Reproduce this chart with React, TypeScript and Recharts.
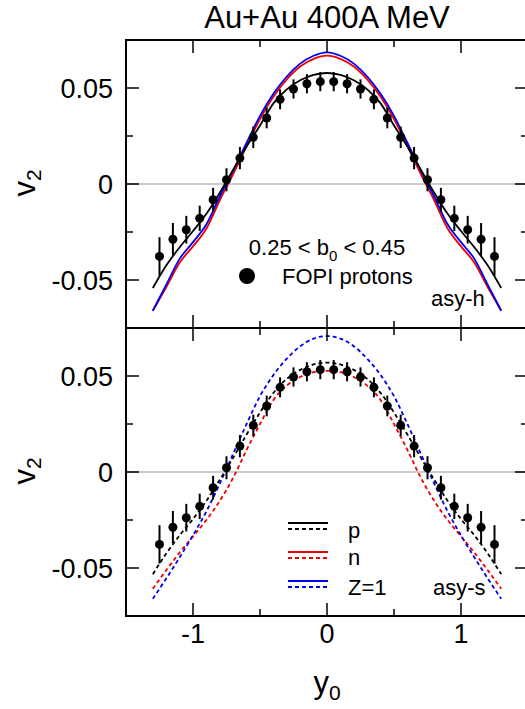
import { ComposedChart, ErrorBar, Line, ReferenceArea, ReferenceLine, Scatter, XAxis, YAxis } from "recharts";

// rapidity grid for the transport-model curves
const curveY0 = [
  -1.3, -1.2, -1.1, -1.0, -0.9, -0.8, -0.7, -0.6, -0.5, -0.4, -0.3, -0.2, -0.1, 0,
  0.1, 0.2, 0.3, 0.4, 0.5, 0.6, 0.7, 0.8, 0.9, 1.0, 1.1, 1.2, 1.3,
];

// asy-h (solid)
const pStiff = [
  -0.0542, -0.0425, -0.033, -0.0245, -0.0155, -0.0045, 0.0075, 0.0195, 0.0305, 0.042, 0.0493, 0.054, 0.0568, 0.0578,
  0.0568, 0.054, 0.0493, 0.042, 0.0305, 0.0195, 0.0075, -0.0045, -0.0155, -0.0245, -0.033, -0.0425, -0.0542,
];
const nStiff = [
  -0.066, -0.0538, -0.041, -0.0325, -0.0232, -0.0085, 0.0052, 0.0198, 0.0338, 0.0455, 0.0545, 0.0612, 0.0652, 0.0669,
  0.0652, 0.0612, 0.0545, 0.0455, 0.0338, 0.0198, 0.0052, -0.0085, -0.0232, -0.0325, -0.041, -0.0538, -0.066,
];
const zStiff = [
  -0.066, -0.0525, -0.039, -0.0303, -0.021, -0.0065, 0.007, 0.0215, 0.0355, 0.047, 0.056, 0.0627, 0.0668, 0.0686,
  0.0668, 0.0627, 0.056, 0.047, 0.0355, 0.0215, 0.007, -0.0065, -0.021, -0.0303, -0.039, -0.0525, -0.066,
];

// asy-s (dashed)
const pSoft = [
  -0.0532, -0.0425, -0.033, -0.0245, -0.015, -0.004, 0.0075, 0.0195, 0.031, 0.0412, 0.0485, 0.0532, 0.056, 0.057,
  0.056, 0.0532, 0.0485, 0.0412, 0.031, 0.0195, 0.0075, -0.004, -0.015, -0.0245, -0.033, -0.0425, -0.0532,
];
const nSoft = [
  -0.0608, -0.0512, -0.042, -0.0335, -0.025, -0.015, -0.003, 0.0115, 0.025, 0.0375, 0.045, 0.0495, 0.052, 0.0527,
  0.052, 0.0495, 0.045, 0.0375, 0.025, 0.0115, -0.003, -0.015, -0.025, -0.0335, -0.042, -0.0512, -0.0608,
];
const zSoft = [
  -0.066, -0.0555, -0.0445, -0.033, -0.0205, -0.006, 0.0095, 0.025, 0.0395, 0.0505, 0.059, 0.0655, 0.0695, 0.0708,
  0.0695, 0.0655, 0.059, 0.0505, 0.0395, 0.025, 0.0095, -0.006, -0.0205, -0.033, -0.0445, -0.0555, -0.066,
];

// FOPI protons
const fopiY0 = [
  -1.25, -1.15, -1.05, -0.95, -0.85, -0.75, -0.65, -0.55, -0.45, -0.35, -0.25, -0.15, -0.05,
  0.05, 0.15, 0.25, 0.35, 0.45, 0.55, 0.65, 0.75, 0.85, 0.95, 1.05, 1.15, 1.25,
];
const fopiV2 = [
  -0.0377, -0.0288, -0.0238, -0.0179, -0.0082, 0.0022, 0.0135, 0.0243, 0.0344, 0.0441, 0.0495, 0.0522, 0.0533,
  0.0533, 0.0522, 0.0495, 0.0441, 0.0344, 0.0243, 0.0135, 0.0022, -0.0082, -0.0179, -0.0238, -0.0288, -0.0377,
];
const fopiErr = [
  0.01, 0.0085, 0.0072, 0.0066, 0.0062, 0.006, 0.0058, 0.0056, 0.0054, 0.0052, 0.005, 0.005, 0.005,
  0.005, 0.005, 0.005, 0.0052, 0.0054, 0.0056, 0.0058, 0.006, 0.0062, 0.0066, 0.0072, 0.0085, 0.01,
];

const xTicks = [-1.5, -1, -0.5, 0, 0.5, 1, 1.5];
const xTickLabels = ["", "-1", "", "0", "", "1", ""];
const yTicks = [-0.05, -0.025, 0, 0.025, 0.05];
const yTickLabels = ["-0.05", "", "0", "", "0.05"];

const FONT = '"Liberation Sans", Arial, Helvetica, sans-serif';
const PLOT_W = 402;
const PLOT_H = 288;
const RED = "#ee0000";
const BLUE = "#0000ee";

const toPoints = (vals: number[]) => curveY0.map((x, i) => ({ x, v: vals[i] }));
const fopi = fopiY0.map((x, i) => ({ x, v: fopiV2[i], err: fopiErr[i] }));

function XTick(props: any) {
  const { x, y, payload, showLabel } = props;
  const i = xTicks.indexOf(payload.value);
  const len = Number.isInteger(payload.value) ? 13 : 7;
  return (
    <g>
      <line x1={x} y1={y} x2={x} y2={y - len} stroke="#000" strokeWidth={1.5} />
      <line x1={x} y1={y - PLOT_H} x2={x} y2={y - PLOT_H + len} stroke="#000" strokeWidth={1.5} />
      {showLabel && xTickLabels[i] ? (
        <text x={x} y={y + 17} dy="0.36em" textAnchor="middle" fontSize={27} fontFamily={FONT} fill="#000">
          {xTickLabels[i]}
        </text>
      ) : null}
    </g>
  );
}

function YTick(props: any) {
  const { x, y, payload } = props;
  const i = yTicks.indexOf(payload.value);
  const len = yTickLabels[i] ? 13 : 7;
  return (
    <g>
      <line x1={x} y1={y} x2={x + len} y2={y} stroke="#000" strokeWidth={1.5} />
      <line x1={x + PLOT_W} y1={y} x2={x + PLOT_W - len} y2={y} stroke="#000" strokeWidth={1.5} />
      {yTickLabels[i] ? (
        <text x={x - 13} y={y} dy="0.36em" textAnchor="end" fontSize={27} fontFamily={FONT} fill="#000">
          {yTickLabels[i]}
        </text>
      ) : null}
    </g>
  );
}

const dot = (p: any) => <circle cx={p.cx} cy={p.cy} r={4.5} fill="#000" />;

function Panel({ dashed, showXLabels }: { dashed: boolean; showXLabels: boolean }) {
  const dash = dashed ? "4 3" : undefined;
  const curves = dashed
    ? [
        { key: "n", data: nSoft, color: RED },
        { key: "z", data: zSoft, color: BLUE },
        { key: "p", data: pSoft, color: "#000" },
      ]
    : [
        { key: "n", data: nStiff, color: RED },
        { key: "z", data: zStiff, color: BLUE },
        { key: "p", data: pStiff, color: "#000" },
      ];
  return (
    <ComposedChart width={530} height={370} margin={{ top: 40, right: 2, left: 0, bottom: 40 }}>
      <XAxis
        dataKey="x"
        type="number"
        domain={[-1.5, 1.5]}
        ticks={xTicks}
        interval={0}
        height={2}
        tickSize={0}
        tickMargin={0}
        tickLine={false}
        axisLine={false}
        allowDataOverflow
        tick={(p: any) => <XTick {...p} showLabel={showXLabels} />}
      />
      <YAxis
        type="number"
        domain={[-0.075, 0.075]}
        ticks={yTicks}
        interval={0}
        width={126}
        tickSize={0}
        tickMargin={0}
        tickLine={false}
        axisLine={false}
        allowDataOverflow
        tick={(p: any) => <YTick {...p} />}
      />
      <ReferenceLine y={0} stroke="#999" strokeWidth={1} />
      <ReferenceArea x1={-1.5} x2={1.5} y1={-0.075} y2={0.075} fill="none" stroke="#000" strokeWidth={2} />
      {curves.map((c) => (
        <Line
          key={c.key}
          data={toPoints(c.data)}
          dataKey="v"
          type="monotone"
          stroke={c.color}
          strokeWidth={1.8}
          strokeDasharray={dash}
          dot={false}
          activeDot={false}
          isAnimationActive={false}
        />
      ))}
      <Scatter data={fopi} dataKey="v" shape={dot} isAnimationActive={false}>
        <ErrorBar dataKey="err" direction="y" width={0} stroke="#000" strokeWidth={2} />
      </Scatter>
    </ComposedChart>
  );
}

export default function App() {
  const txt = { fontFamily: FONT, fill: "#000" };
  return (
    <div style={{ position: "absolute", left: 0, top: 0, width: 525, height: 709, overflow: "hidden", background: "#fff" }}>
      <div style={{ position: "absolute", left: 0, top: 0 }}>
        <Panel dashed={false} showXLabels={false} />
      </div>
      <div style={{ position: "absolute", left: 0, top: 288 }}>
        <Panel dashed={true} showXLabels={true} />
      </div>
      <svg width={525} height={709} style={{ position: "absolute", left: 0, top: 0, pointerEvents: "none" }}>
        <text x={327} y={28} textAnchor="middle" fontSize={31} {...txt}>
          Au+Au 400A MeV
        </text>
        <text transform="translate(35,183) rotate(-90)" textAnchor="middle" fontSize={31} {...txt}>
          v<tspan dy={6} fontSize={21}>2</tspan>
        </text>
        <text transform="translate(35,471) rotate(-90)" textAnchor="middle" fontSize={31} {...txt}>
          v<tspan dy={6} fontSize={21}>2</tspan>
        </text>
        <text x={327} y={693} textAnchor="middle" fontSize={31} {...txt}>
          y<tspan dy={7} fontSize={21}>0</tspan>
        </text>

        <text x={327} y={255} textAnchor="middle" fontSize={22} {...txt}>
          0.25 &lt; b<tspan dy={6} fontSize={15}>0</tspan>
          <tspan dy={-6}> &lt; 0.45</tspan>
        </text>
        <circle cx={247} cy={276} r={8} fill="#000" />
        <text x={282} y={284} fontSize={22} {...txt}>
          FOPI protons
        </text>
        <text x={431} y={306} fontSize={22} {...txt}>
          asy-h
        </text>

        <line x1={288} x2={328} y1={523} y2={523} stroke="#000" strokeWidth={2} />
        <line x1={288} x2={328} y1={529} y2={529} stroke="#000" strokeWidth={2} strokeDasharray="4 3" />
        <line x1={288} x2={328} y1={552} y2={552} stroke={RED} strokeWidth={2} />
        <line x1={288} x2={328} y1={558} y2={558} stroke={RED} strokeWidth={2} strokeDasharray="4 3" />
        <line x1={288} x2={328} y1={581} y2={581} stroke={BLUE} strokeWidth={2} />
        <line x1={288} x2={328} y1={587} y2={587} stroke={BLUE} strokeWidth={2} strokeDasharray="4 3" />
        <text x={348} y={538} fontSize={22} {...txt}>
          p
        </text>
        <text x={348} y={565} fontSize={22} {...txt}>
          n
        </text>
        <text x={348} y={595} fontSize={22} {...txt}>
          Z=1
        </text>
        <text x={433} y={595} fontSize={22} {...txt}>
          asy-s
        </text>
      </svg>
    </div>
  );
}
